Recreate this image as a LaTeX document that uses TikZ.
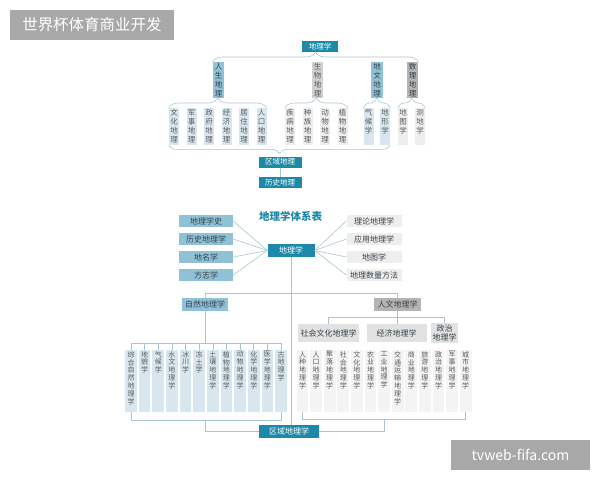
\documentclass[tikz,border=0pt]{standalone}
\usepackage{fontspec}
\setmainfont{Noto Sans CJK SC}
\usetikzlibrary{decorations.pathreplacing,calc}
\definecolor{teal1}{RGB}{28,137,168}
\definecolor{blue2}{RGB}{143,194,215}
\definecolor{blue3}{RGB}{216,231,239}
\definecolor{gray1}{RGB}{168,168,168}
\definecolor{gray2}{RGB}{180,180,180}
\definecolor{gray3}{RGB}{208,208,208}
\definecolor{gray4}{RGB}{226,226,226}
\definecolor{gray5}{RGB}{238,238,238}
\definecolor{gray6}{RGB}{244,244,244}
\definecolor{linec}{RGB}{168,198,210}
\definecolor{txt}{RGB}{90,90,90}
\definecolor{txtd}{RGB}{55,65,72}
% one character per line
\newcommand{\vt}[1]{\vtsplit#1\vtend}
\def\vtsplit#1#2\vtend{#1\ifx\relax#2\relax\else\\\vtsplit#2\vtend\fi}
\newcommand{\vcol}[3]{\parbox[t][#2pt][t]{#1pt}{\centering\expandafter\vt\expandafter{#3}}}
\newcommand{\vfa}{\fontsize{7.5}{9}\selectfont}
\newcommand{\vfb}{\fontsize{7}{7.9}\selectfont}
\tikzset{
	conn/.style={draw=linec, line width=0.6pt},
	brc/.style={draw=linec, line width=0.6pt, decorate, decoration={brace, amplitude=#1}},
	hbox/.style={fill=#1, inner sep=0pt, text=txtd, font=\fontsize{8}{9}\selectfont},
	vbox/.style={fill=#1, inner xsep=0pt, inner ysep=1pt, anchor=north, text=txt},
}
\begin{document}
\begin{tikzpicture}[x=1pt, y=-1pt]
		\fill[white] (0,0) rectangle (600,480);
		\useasboundingbox (0,0) rectangle (600,480);
		%draw title and mark
		\node[hbox=gray1, text=white, minimum width=164pt, minimum height=30pt, font=\fontsize{15.5}{18}\selectfont] (tl) at (92,25) {世界杯体育商业开发};
		\node[hbox=gray1, text=white, minimum width=139pt, minimum height=30pt, font=\fontsize{14}{16}\selectfont] (wm) at (520.5,455) {tvweb-fifa.com};
		
		%draw upper tree
		\node[hbox=teal1, text=white, minimum width=36pt, minimum height=11pt, font=\vfa] (dl) at (320,46.5) {地理学};
		\node[vbox=blue2, font=\vfa, text=txtd] (rs) at (218.5,62) {\vcol{11.5}{34}{人生地理}};
		\node[vbox=gray3, font=\vfa] (sw) at (317.5,62) {\vcol{11.5}{34}{生物地理}};
		\node[vbox=blue2, font=\vfa, text=txtd] (dw) at (377,62) {\vcol{11.5}{34}{地文地理}};
		\node[vbox=gray2, font=\vfa, text=txtd] (sl) at (412.5,62) {\vcol{11.5}{34}{数理地理}};
		\foreach \t [count=\i] in {文化地理,军事地理,政府地理,经济地理,居住地理,人口地理}
			\node[vbox=blue3, font=\vfa] (h\i) at ({156.5+17.5*\i},108) {\vcol{10}{35}{\t}};
		\foreach \t [count=\i] in {疾病地理,种族地理,动物地理,植物地理}
			\node[vbox=gray5, font=\vfa] (s\i) at ({272.5+17.5*\i},108) {\vcol{10}{35}{\t}};
		\node[vbox=blue3, font=\vfa] (w1) at (368.5,108) {\vcol{10}{35}{气候学}};
		\node[vbox=blue3, font=\vfa] (w2) at (385,108) {\vcol{10}{35}{地形学}};
		\node[vbox=gray5, font=\vfa] (c1) at (403,108) {\vcol{10}{35}{地图学}};
		\node[vbox=gray5, font=\vfa] (c2) at (420,108) {\vcol{10}{35}{测地学}};
		\node[hbox=teal1, text=white, minimum width=43pt, minimum height=11pt, font=\vfa] (qd) at (280,162) {区域地理};
		\node[hbox=teal1, text=white, minimum width=43pt, minimum height=11pt, font=\vfa] (ls) at (280,182.5) {历史地理};
		%draw braces
		\draw[brc=10pt] (rs.north west) -- (sl.north east);
		\draw[brc=10pt] (h1.north west) -- (h6.north east);
		\draw[brc=10pt] (s1.north west) -- (s4.north east);
		\draw[brc=10pt] (w1.north west) -- (w2.north east);
		\draw[brc=10pt] (c1.north west) -- (c2.north east);
		\draw[brc=8pt] (w2.south east) -- (h1.south west);
		\draw[conn] (qd.south) -- (ls.north);
		
		%draw lower tree
		\node[text=teal1, font=\bfseries\fontsize{10.5}{12}\selectfont] (tt) at (290.5,216.5) {地理学体系表};
		\node[hbox=teal1, text=white, minimum width=47pt, minimum height=12.3pt] (dz) at (291,250.5) {地理学};
		\foreach \t [count=\i] in {地理学史,历史地理学,地名学,方志学}
			\node[hbox=blue2, minimum width=54pt, minimum height=12pt] (l\i) at (206,{203+18*\i}) {\t};
		\foreach \t [count=\i] in {理论地理学,应用地理学,地图学,地理数量方法}
			\node[hbox=gray5, minimum width=55pt, minimum height=12pt] (r\i) at (374,{203+18*\i}) {\t};
		\foreach \i in {1,...,4} {
			\draw[conn] (dz.west) -- (l\i.east);
			\draw[conn] (dz.east) -- (r\i.west);
		}
		\node[hbox=blue2, minimum width=46.7pt, minimum height=12.4pt] (zr) at (205,304.5) {自然地理学};
		\node[hbox=gray2, minimum width=47pt, minimum height=12.4pt] (rw) at (397.5,304.5) {人文地理学};
		\node[hbox=teal1, text=white, minimum width=59.7pt, minimum height=13.3pt] (qy) at (289.2,431.7) {区域地理学};
		\draw[conn] (zr.north) -- ++(0,-5) -| (rw.north);
		\draw[conn] (dz.south) -- (dz.south |- qy.north);
		%natural branch
		\foreach \t [count=\i] in {综合自然地理学,地貌学,气候学,水文地理学,冰川学,冻土学,土壤地理学,植物地理学,动物地理学,化学地理学,医学地理学,古地理学}
			\node[vbox=blue3, font=\vfb] (n\i) at ({117.36+13.64*\i},350) {\vcol{11.7}{60}{\t}};
		\coordinate (nt) at ($(n1.north)+(0,-7)$);
		\coordinate (nb) at ($(n1.south)+(0,8)$);
		\foreach \i in {1,...,12}
			\draw[conn] (n\i.north) -- (n\i.north |- nt);
		\draw[conn] (nt) -- (nt -| n12.north);
		\draw[conn] (zr.south) -- (zr.south |- nt);
		\draw[conn] (n1.south) -- (nb) -| (n12.south);
		\draw[conn] (zr.south |- nb) |- (qy.west);
		%human branch
		\node[hbox=gray4, minimum width=60.7pt, minimum height=18pt] (sh) at (328.7,333.3) {社会文化地理学};
		\node[hbox=gray4, minimum width=60pt, minimum height=18pt] (jj) at (396.7,333.3) {经济地理学};
		\node[hbox=gray4, minimum width=27.7pt, minimum height=20pt, align=center] (zz) at (444.5,333.3) {政治\\地理学};
		\draw[conn] (rw.south) -- (rw.south |- jj.north);
		\draw[conn] (sh.north) -- ++(0,-7) -| (zz.north);
		\foreach \t [count=\i] in {人种地理学,人口地理学,聚落地理学,社会地理学,文化地理学,农业地理学,工业地理学,交通运输地理学,商业地理学,旅游地理学,政治地理学,军事地理学,城市地理学}
			\node[vbox=gray6, font=\vfb] (m\i) at ({288.9+13.6*\i},350) {\vcol{11.7}{60}{\t}};
		\coordinate (mb) at ($(m1.south)+(0,7)$);
		\draw[conn] (m1.south) -- (mb) -| (m13.south);
		\draw[conn] (m7.south |- mb) |- (qy.east);
		
	\end{tikzpicture}
\end{document}
